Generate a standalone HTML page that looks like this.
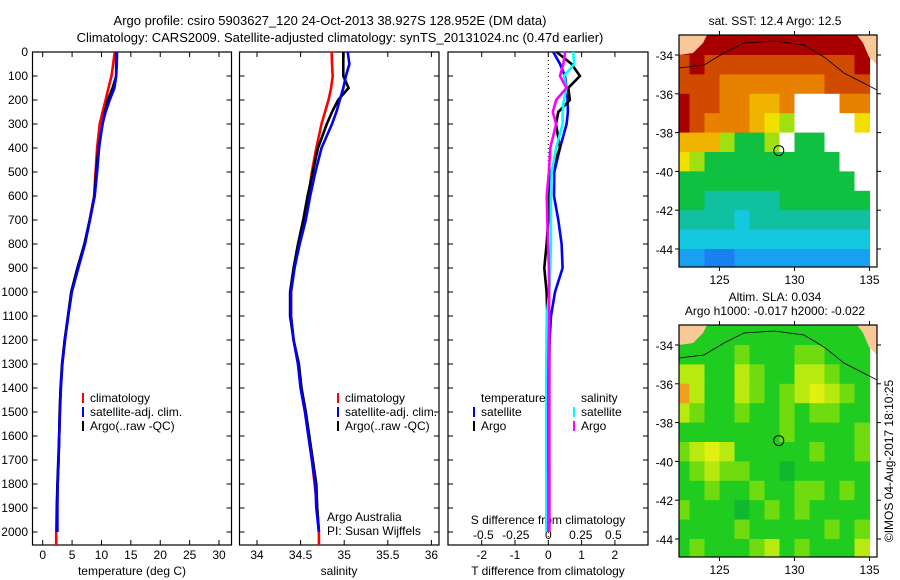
<!DOCTYPE html>
<html><head><meta charset="utf-8">
<style>
html,body{margin:0;padding:0;background:#fff;}
svg{display:block;font-family:"Liberation Sans",sans-serif;}
text{font-size:12px;fill:#000;}
</style></head>
<body>
<svg id="c" width="900" height="580" viewBox="0 0 900 580" xmlns="http://www.w3.org/2000/svg">
<text x="330" y="25" text-anchor="middle" style="font-size:13px">Argo profile: csiro 5903627_120 24-Oct-2013 38.927S 128.952E (DM data)</text>
<text x="340" y="42" text-anchor="middle" style="font-size:13px">Climatology: CARS2009. Satellite-adjusted climatology: synTS_20131024.nc (0.47d earlier)</text>
<text x="775" y="25" text-anchor="middle">sat. SST: 12.4  Argo: 12.5</text>
<text x="775" y="301" text-anchor="middle">Altim. SLA: 0.034</text>
<text x="775" y="315" text-anchor="middle">Argo h1000: -0.017 h2000: -0.022</text>
<text transform="translate(893,461) rotate(-90)" text-anchor="middle">©IMOS 04-Aug-2017 18:10:25</text>
<g id="g"></g>
</svg>
<script>
// ---- profile data ----
const depths = [0,50,100,150,200,250,300,400,500,600,700,800,900,1000,1100,1200,1300,1400,1500,1600,1700,1800,1900,2000];
const tempClim = [12.25,12.0,11.7,11.2,10.7,10.2,9.7,9.25,9.0,8.75,8.0,7.15,6.0,4.9,4.3,3.75,3.3,3.05,2.9,2.8,2.7,2.55,2.4,2.3];
const tempArgo = [12.5,12.5,12.5,11.9,11.1,10.6,10.2,9.5,9.1,8.8,8.0,7.1,5.9,4.85,4.3,3.75,3.3,3.05,2.9,2.8,2.65,2.5,2.4,2.45];
const tempSat  = [12.65,12.6,12.5,12.2,11.4,10.7,10.15,9.6,9.25,8.85,8.05,7.2,6.05,4.95,4.35,3.8,3.35,3.1,2.95,2.8,2.7,2.55,2.5,2.5];
const salClim = [34.857,34.86,34.868,34.85,34.82,34.78,34.74,34.68,34.63,34.59,34.54,34.48,34.43,34.39,34.39,34.42,34.47,34.50,34.55,34.59,34.63,34.66,34.69,34.71];
const salArgo = [34.99,34.99,34.99,35.05,34.93,34.86,34.80,34.70,34.64,34.58,34.53,34.47,34.42,34.38,34.38,34.42,34.48,34.51,34.56,34.60,34.64,34.68,34.69,34.71];
const salSat  = [35.04,35.06,35.02,34.99,34.95,34.91,34.86,34.74,34.67,34.61,34.56,34.49,34.43,34.39,34.39,34.42,34.47,34.50,34.55,34.59,34.63,34.67,34.68,34.71];
const dTSat  = [0.15,0.35,0.5,0.55,0.58,0.59,0.55,0.35,0.18,0.17,0.3,0.4,0.43,0.2,0.08,0.04,0.03,0.03,0.03,0.03,0.03,0.03,0.03,0.03];
const dTArgo = [0.25,0.7,0.95,0.6,0.65,0.3,0.23,0.35,0.08,0.0,0.0,-0.05,-0.12,-0.05,-0.03,-0.03,-0.02,-0.02,-0.02,-0.02,-0.02,-0.02,-0.02,-0.02];
const dSSat  = [0.19,0.2,0.12,0.14,0.12,0.11,0.11,0.06,0.026,0.02,0.02,0.02,0.015,0.008,-0.012,-0.014,-0.015,-0.016,-0.016,-0.016,-0.016,-0.015,-0.015,-0.015];
const dSArgo = [0.13,0.115,0.09,0.14,0.06,0.035,0.06,0.015,0.005,-0.012,-0.008,-0.002,0.005,0.006,0.006,0.007,0.008,0.008,0.008,0.008,0.008,0.008,0.008,0.008];
const depthTicks = [0,100,200,300,400,500,600,700,800,900,1000,1100,1200,1300,1400,1500,1600,1700,1800,1900,2000];
const tempTicks = [0,5,10,15,20,25,30];
const salTicks = [34,34.5,35,35.5,36];
const salTickLabels = ["34","34.5","35","35.5","36"];
const dTTicks = [-2,-1,0,1,2];
const dSTicks = [-0.5,-0.25,0,0.25,0.5];
const dSTickLabels = ["-0.5","-0.25","0","0.25","0.5"];
// ---- map data (1-degree cells, lon 122.5..135.5, lat -33..-45) ----
const sstGrid = [
[10,10,10,10,10,10,10,10,10,10,10,10,10],
[9,10,9,9,9,9,9,9,9,9,9,9,10],
[9,9,9,8,8,8,8,8,8,8,9,9,9],
[10,9,9,8,8,7,7,8,-1,-1,-1,8,8],
[10,9,8,8,8,7,6,5,-1,-1,-1,-1,6],
[7,7,7,5,4,4,5,-1,4,4,-1,-1,-1],
[6,5,4,4,4,4,4,4,4,4,4,-1,-1],
[4,4,4,4,4,4,4,4,4,4,4,4,-1],
[4,4,3,3,3,3,3,4,4,4,4,4,4],
[3,3,3,3,2,3,3,3,3,3,3,3,3],
[2,2,2,2,2,2,2,2,2,2,2,2,2],
[1,1,0,0,1,1,1,1,1,1,1,1,1]];
const slaGrid = [
[1,1,1,1,1,1,1,1,1,1,1,1,1],
[1,1,1,1,2,1,1,1,2,2,1,1,1],
[3,3,1,1,3,2,1,1,3,3,2,1,1],
[5,3,1,1,3,2,1,2,3,4,3,2,1],
[3,2,1,1,2,1,1,2,1,2,2,1,1],
[1,1,1,1,1,1,1,2,1,1,1,1,2],
[2,3,4,3,1,1,1,1,1,2,1,1,2],
[1,2,3,2,2,1,1,0,1,1,1,1,1],
[1,1,2,1,1,2,1,1,2,2,1,2,1],
[2,1,1,1,0,1,2,1,2,1,1,1,1],
[1,1,1,1,2,1,1,1,1,1,2,1,2],
[1,2,1,1,1,2,3,1,2,1,1,1,3]];
const sstColors = ["#1a7ff0","#1aa0f0","#14c8e0","#10c0a0","#10c040","#a0e010","#f0e000","#f0b400","#e88000","#d04a00","#a80000"];
const slaColors = ["#10b830","#20cc20","#70dc10","#b8ea10","#e0f010","#f0a020"];
const lonTicks = [125,130,135];
const latTicks = [-34,-36,-38,-40,-42,-44];
const argoLon = 128.952, argoLat = -38.927;

const NS="http://www.w3.org/2000/svg";
const G=document.getElementById('g');
function el(tag,attrs,parent){const e=document.createElementNS(NS,tag);for(const k in attrs)e.setAttribute(k,attrs[k]);(parent||G).appendChild(e);return e;}
function txt(x,y,s,anchor,name){const t=el('text',{x:x,y:y,'text-anchor':anchor||'start'});t.textContent=s;


return t;}

const yD = d => 52 + d*0.24;
const xT = v => 42.7 + v*5.877;
const xS = v => 257 + (v-34)*87.2;
const xdT = v => 548.3 + v*33.3;
const xdS = v => 548.3 + v*130;
const panels=[[32.5,231.5],[239.5,439],[448,648]];
const TOP=52,BOT=545;

panels.forEach((p,i)=>{
  const r=el('rect',{x:p[0],y:TOP,width:p[1]-p[0],height:BOT-TOP,fill:'none',stroke:'#000','stroke-width':1.2});
  
  
  depthTicks.forEach(d=>{
    el('line',{x1:p[0],x2:p[0]+5,y1:yD(d),y2:yD(d),stroke:'#000'});
    el('line',{x1:p[1]-5,x2:p[1],y1:yD(d),y2:yD(d),stroke:'#000'});
  });
});
depthTicks.forEach(d=>txt(28,yD(d)+4,String(d),'end','depth-tick-label'));

function xticks(vals,fx,labels,ly,name){
  vals.forEach((v,i)=>{const x=fx(v);
    el('line',{x1:x,x2:x,y1:BOT,y2:BOT-5,stroke:'#000'});
    el('line',{x1:x,x2:x,y1:TOP,y2:TOP+5,stroke:'#000'});
    txt(x,ly,labels?labels[i]:String(v),'middle',name);
  });
}
xticks(tempTicks,xT,null,559,'temperature-tick-label');
xticks(salTicks,xS,salTickLabels,559,'salinity-tick-label');
xticks(dTTicks,xdT,null,559,'t-diff-tick-label');
dSTicks.forEach((v,i)=>txt(xdS(v),539,dSTickLabels[i],'middle','s-diff-tick-label'));
txt(132,575,'temperature (deg C)','middle','temperature-axis-title');
txt(339,575,'salinity','middle','salinity-axis-title');
txt(548,575,'T difference from climatology','middle','t-diff-axis-title');
txt(548,524,'S difference from climatology','middle','s-diff-axis-title');
el('line',{x1:xdT(0),x2:xdT(0),y1:TOP,y2:BOT,stroke:'#000','stroke-dasharray':'1,3'});

function series(vals,fx,color,name){
  const pts=vals.map((v,i)=>fx(v).toFixed(1)+','+yD(depths[i]).toFixed(1)).join(' ');
  const pl=el('polyline',{points:pts,fill:'none',stroke:color,'stroke-width':2.6,'stroke-linejoin':'miter'});
  
  
}
series(tempClim,xT,'#ff0000','temperature-climatology-line');
series(tempArgo,xT,'#000000','temperature-argo-line');
series(tempSat,xT,'#0000ff','temperature-satellite-line');
el('line',{x1:xT(2.3),x2:xT(2.3),y1:yD(2000),y2:BOT,stroke:'#f00','stroke-width':2.6});
series(salClim,xS,'#ff0000','salinity-climatology-line');
series(salArgo,xS,'#000000','salinity-argo-line');
series(salSat,xS,'#0000ff','salinity-satellite-line');
el('line',{x1:xS(34.71),x2:xS(34.71),y1:yD(2000),y2:BOT,stroke:'#f00','stroke-width':2.6});
series(dTSat,xdT,'#0000ff','t-diff-satellite-line');
series(dTArgo,xdT,'#000000','t-diff-argo-line');
series(dSSat,xdS,'#00ffff','s-diff-satellite-line');
series(dSArgo,xdS,'#ff00ff','s-diff-argo-line');

function legendItem(x,y,color,label,name){
  el('line',{x1:x,x2:x,y1:y-9,y2:y+1,stroke:color,'stroke-width':2});
  txt(x+7,y,label,'start',name);
}
[[83,'#f00','climatology'],[83,'#00f','satellite-adj. clim.'],[83,'#000','Argo(..raw -QC)']].forEach((l,i)=>legendItem(l[0],402+i*14,l[1],l[2],'temperature-legend-entry'));
[[338,'#f00','climatology'],[338,'#00f','satellite-adj. clim.'],[338,'#000','Argo(..raw -QC)']].forEach((l,i)=>legendItem(l[0],402+i*14,l[1],l[2],'salinity-legend-entry'));
txt(481,402,'temperature','start','diff-legend-temperature-heading');
txt(581,402,'salinity','start','diff-legend-salinity-heading');
legendItem(474,416,'#00f','satellite','diff-legend-entry');
legendItem(474,430,'#000','Argo','diff-legend-entry');
legendItem(574,416,'#0ff','satellite','diff-legend-entry');
legendItem(574,430,'#f0f','Argo','diff-legend-entry');
txt(327,521,'Argo Australia','start','credit-argo-australia');
txt(327,535,'PI: Susan Wijffels','start','credit-pi');

// ---- maps ----
const ML=679, MR=877, LON0=122.3, PXLON=15, LAT0=-32.97, PXLAT=19.4;
function drawMap(top,bottom,grid,colors,name){
  const xL=lon=>ML+(lon-LON0)*PXLON;
  const yL=lat=>top+(LAT0-lat)*PXLAT;
  const cp='clip'+top;
  const defs=el('defs',{});const c=el('clipPath',{id:cp},defs);el('rect',{x:ML,y:top,width:MR-ML,height:bottom-top},c);
  const g=el('g',{'clip-path':'url(#'+cp+')'});
  
  
  el('rect',{x:ML,y:top,width:MR-ML,height:PXLAT,fill:colors[grid[0][0]]},g);
  grid.forEach((row,r)=>row.forEach((v,ci)=>{
    const lonW=122+ci, latTop=-33-r;
    const fill = v<0 ? '#ffffff' : colors[v];
    el('rect',{x:xL(lonW),y:yL(latTop),width:PXLON+0.6,height:PXLAT+0.6,fill:fill},g);
  }));
  el('polygon',{points:`${ML},${top} ${ML+28},${top} ${ML+24},${top+8} ${ML+14},${top+18} ${ML},${top+20}`,fill:'#f8c898'},g);
  el('polygon',{points:`${MR-20},${top} ${MR},${top} ${MR},${top+30} ${MR-8},${top+22} ${MR-14},${top+8}`,fill:'#f8c898'},g);
  el('polyline',{points:`${ML},${top+33} ${ML+25},${top+30} ${ML+45},${top+18} ${ML+65},${top+8} ${ML+95},${top+6} ${ML+125},${top+10} ${ML+145},${top+22} ${ML+165},${top+38} ${MR},${top+55}`,fill:'none',stroke:'#000','stroke-width':0.8},g);
  const fr=el('rect',{x:ML,y:top,width:MR-ML,height:bottom-top,fill:'none',stroke:'#000','stroke-width':1.2});
  
  
  lonTicks.forEach(l=>{const x=xL(l);
    el('line',{x1:x,x2:x,y1:top,y2:top-4,stroke:'#000'});
    el('line',{x1:x,x2:x,y1:bottom,y2:bottom+4,stroke:'#000'});
    txt(x,bottom+17,String(l),'middle','lon-tick-label');});
  latTicks.forEach(l=>{const y=yL(l);
    el('line',{x1:ML,x2:ML-4,y1:y,y2:y,stroke:'#000'});
    el('line',{x1:MR,x2:MR+4,y1:y,y2:y,stroke:'#000'});
    txt(ML-6,y+5,String(l),'end','lat-tick-label');});
  const m=el('circle',{cx:xL(argoLon),cy:yL(argoLat),r:5,fill:'none',stroke:'#000','stroke-width':1});
  
  
}
drawMap(35,267,sstGrid,sstColors,'sst-map');
drawMap(325,557,slaGrid,slaColors,'sla-map');
</script>
</body></html>
